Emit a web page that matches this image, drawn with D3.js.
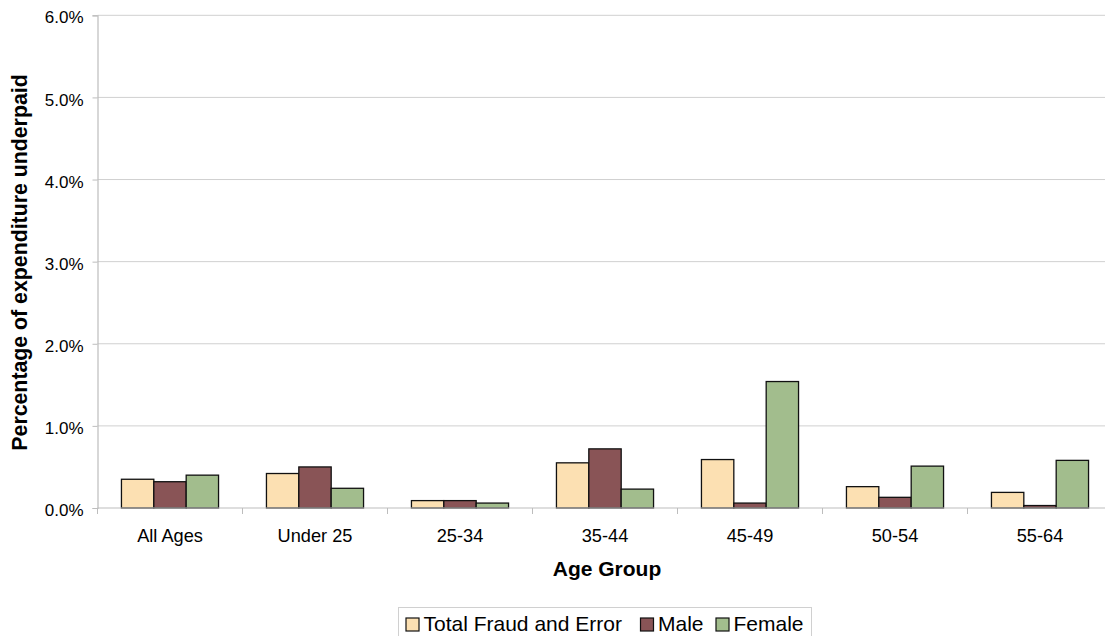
<!DOCTYPE html>
<html>
<head>
<meta charset="utf-8">
<script src="https://cdn.jsdelivr.net/npm/d3@7"></script>
<style>
  html, body { margin: 0; padding: 0; background: #fff; }
  svg { display: block; font-family: "Liberation Sans", Arial, sans-serif; }
</style>
</head>
<body>
<svg id="chart" width="1105" height="636"></svg>
<script>
const categories = ["All Ages", "Under 25", "25-34", "35-44", "45-49", "50-54", "55-64"];
const seriesNames = ["Total Fraud and Error", "Male", "Female"];
const totalValues  = [0.0035, 0.0042, 0.0009, 0.0055, 0.0059, 0.0026, 0.0019];
const maleValues   = [0.0032, 0.0050, 0.0009, 0.0072, 0.0006, 0.0013, 0.0003];
const femaleValues = [0.0040, 0.0024, 0.0006, 0.0023, 0.0154, 0.0051, 0.0058];
const yTicks = [0, 0.01, 0.02, 0.03, 0.04, 0.05, 0.06];
const colors = ["#FCE0B2", "#895456", "#A2BD8D"];

const seriesValues = [totalValues, maleValues, femaleValues];
const data = categories.map((c, i) => ({
  category: c,
  values: seriesNames.map((s, j) => ({ series: s, value: seriesValues[j][i] }))
}));

const svg = d3.select("#chart");
const mLeft = 97.5, mRight = 1112.5, mTop = 15.3, mBottom = 508;

const x0 = d3.scaleBand().domain(categories).range([mLeft, mRight]).paddingInner(0).paddingOuter(0);
const x1 = d3.scaleBand().domain(seriesNames).range([0, x0.bandwidth()]).paddingInner(0).paddingOuter(0.74);
const y = d3.scaleLinear().domain([0, 0.06]).range([mBottom, mTop]);
const color = d3.scaleOrdinal().domain(seriesNames).range(colors);

// gridlines
svg.append("g").selectAll("line").data(yTicks.filter(d => d > 0)).join("line")
  .attr("x1", mLeft).attr("x2", mRight)
  .attr("y1", d => y(d)).attr("y2", d => y(d))
  .attr("stroke", "#d0d0d0").attr("stroke-width", 1);

// y axis
const yAxis = d3.axisLeft(y).tickValues(yTicks).tickFormat(d3.format(".1%")).tickSize(5).tickPadding(9);
const gy = svg.append("g").attr("transform", `translate(${mLeft},0)`).call(yAxis);
gy.attr("font-size", null).attr("font-family", null);
gy.select(".domain").attr("stroke", "#bdbdbd").attr("stroke-width", 1.2);
gy.selectAll(".tick line").attr("stroke", "#bdbdbd");
gy.selectAll(".tick text").style("font-size", "17px").attr("fill", "#000").attr("dy", "0.45em");

// bars
const groups = svg.append("g").selectAll("g").data(data).join("g")
  .attr("transform", d => `translate(${x0(d.category)},0)`);
groups.selectAll("rect").data(d => d.values).join("rect")
  .attr("x", d => x1(d.series))
  .attr("y", d => y(d.value))
  .attr("width", x1.bandwidth())
  .attr("height", d => y(0) - y(d.value))
  .attr("fill", d => color(d.series))
  .attr("stroke", "#111").attr("stroke-width", 1.3);

// x axis
const xAxisLine = svg.append("g");
xAxisLine.append("line").attr("x1", mLeft).attr("x2", mRight).attr("y1", mBottom).attr("y2", mBottom)
  .attr("stroke", "#bdbdbd").attr("stroke-width", 1.2);
const xTickPos = d3.range(categories.length + 1).map(i => mLeft + i * x0.step());
xAxisLine.selectAll("line.t").data(xTickPos).join("line").attr("class", "t")
  .attr("x1", d => d).attr("x2", d => d).attr("y1", mBottom).attr("y2", mBottom + 6)
  .attr("stroke", "#bdbdbd");
svg.append("g").selectAll("text").data(categories).join("text")
  .attr("x", d => x0(d) + x0.bandwidth() / 2)
  .attr("y", 541.5)
  .attr("text-anchor", "middle")
  .attr("font-size", 18.2)
  .attr("fill", "#000")
  .text(d => d);

// axis titles
svg.append("text").attr("x", (mLeft + mRight) / 2 + 2).attr("y", 576)
  .attr("text-anchor", "middle").attr("font-weight", "bold").attr("font-size", 21)
  .text("Age Group");
svg.append("text").attr("transform", "translate(26.5,262.5) rotate(-90)")
  .attr("text-anchor", "middle").attr("font-weight", "bold").attr("font-size", 21.3)
  .text("Percentage of expenditure underpaid");

// legend
const legend = svg.append("g");
legend.append("rect").attr("x", 398.5).attr("y", 607.5).attr("width", 413).attr("height", 29)
  .attr("fill", "#fff").attr("stroke", "#d0d0d0");
const legendX = [406, 640.5, 716];
seriesNames.forEach((s, i) => {
  legend.append("rect").attr("x", legendX[i]).attr("y", 618).attr("width", 13).attr("height", 13)
    .attr("fill", colors[i]).attr("stroke", "#111").attr("stroke-width", 1.2);
  legend.append("text").attr("x", legendX[i] + 17.5).attr("y", 630.5)
    .attr("font-size", 21).attr("fill", "#000").text(s);
});
</script>
</body>
</html>
